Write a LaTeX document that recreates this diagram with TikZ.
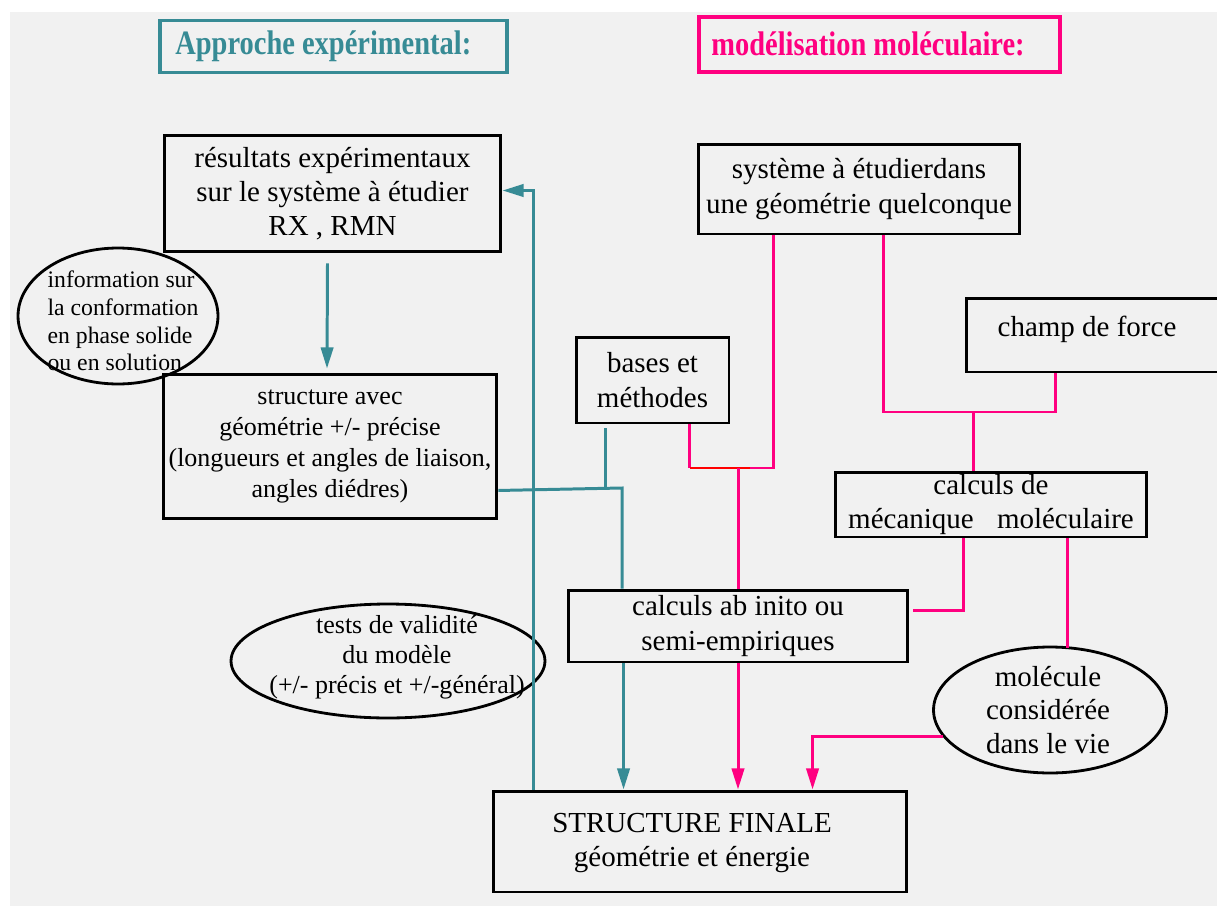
\documentclass[tikz,border=0pt]{standalone}
\usepackage{fontspec}
\usepackage{graphicx}
\setmainfont{Liberation Serif}
\usetikzlibrary{arrows.meta,calc,shapes.geometric}
\definecolor{bgc}{RGB}{241,241,241}
\definecolor{tealc}{RGB}{55,139,149}
\definecolor{pinkc}{RGB}{255,0,128}
\definecolor{redc}{RGB}{255,0,0}
\newcommand\fsz[2]{\fontsize{#1pt}{#2pt}\selectfont}
\begin{document}
\begin{tikzpicture}[x=0.02cm,y=-0.02cm,
  box/.style={draw=black,line width=1.7pt,rectangle,inner sep=0pt,align=center,font=\fsz{16.5}{19.5}},
  ell/.style={draw=black,line width=1.6pt,ellipse,inner sep=0pt},
  txt/.style={inner sep=0pt,align=center,font=\fsz{16.5}{19.5}},
  tl/.style={draw=tealc,line width=1.7pt},
  pl/.style={draw=pinkc,line width=1.7pt},
  arr/.style={-{Triangle[length=12pt,width=7pt]}}]
\useasboundingbox (0,0) rectangle (1217,906);
\clip (0,0) rectangle (1217,906);
\fill[bgc] (10,12) rectangle (1217,906);

% titles
\node[draw=tealc,line width=1.9pt,minimum width=6.94cm,minimum height=1.04cm,inner sep=0pt] (T1) at (333.5,46.5) {};
\node[anchor=west,text=tealc,font=\bfseries\fsz{16.2}{19},inner sep=0pt] (T1t) at (175,46) {\scalebox{1}[1.2]{Approche expérimental:}};
\node[draw=pinkc,line width=1.9pt,minimum width=7.22cm,minimum height=1.1cm,inner sep=0pt] (T2) at (879.5,44.5) {};
\node[anchor=west,text=pinkc,font=\bfseries\fsz{16.2}{19},inner sep=0pt] (T2t) at (711,44) {\scalebox{1}[1.2]{modélisation moléculaire:}};

% boxes
\node[box,minimum width=6.74cm,minimum height=2.34cm] (B1) at (332.5,193.5) {résultats expérimentaux\\sur le système à étudier\\RX , RMN};
\node[box,font=\fsz{14.8}{17.6},minimum width=6.68cm,minimum height=2.9cm] (B2) at (330,446.5) {structure avec\\géométrie +/- précise\\(longueurs et angles de liaison,\\angles diédres)};
\node[box,minimum width=3.06cm,minimum height=1.72cm] (B3) at (652.5,380) {bases et\\méthodes};
\node[box,minimum width=6.44cm,minimum height=1.8cm] (B4) at (859,189) {système à étudierdans\\une géométrie quelconque};
\node[box,minimum width=5.48cm,minimum height=1.48cm] (B5) at (1103,335) {};
\node[txt] (B5t) at (1087,329) {champ de force};
\node[box,minimum width=6.24cm,minimum height=1.3cm] (B6) at (991,504.5) {calculs de\\mécanique\hspace{0.8em}moléculaire};
\node[box,minimum width=6.8cm,minimum height=1.44cm] (B7) at (738,626) {calculs ab inito ou\\semi-empiriques};
\node[box,minimum width=8.28cm,minimum height=2.02cm] (B8) at (700,841.5) {};
\node[txt] (B8t) at (692,843) {STRUCTURE FINALE\\géométrie et énergie};

% ellipses
\node[ell,minimum width=4cm,minimum height=2.72cm] (E1) at (118,316) {};
\node[txt,align=left,font=\fsz{13.5}{15.8}] (E1t) at (123,321) {information sur\\la conformation\\en phase solide\\ou en solution};
\node[ell,minimum width=6.28cm,minimum height=2.28cm] (E2) at (388,661) {};
\node[txt,font=\fsz{14.8}{17}] (E2t) at (397,657) {tests de validité\\du modèle\\(+/- précis et +/-général)};
\node[ell,minimum width=4.66cm,minimum height=2.52cm] (E3) at (1050,710) {};
\node[txt,font=\fsz{16.5}{19}] (E3t) at (1048,710) {molécule\\considérée\\dans le vie};

% teal connectors
\draw[tl,arr] ($(B1.south)+(-5,10)$) -- ($(B2.north)+(-3,-4)$);
\coordinate (b8a) at ($(B8.north west)+(42,0)$);
\draw[tl,arr] (b8a) |- ($(B1.east)+(0,-3)$);
\coordinate (jt) at (622,488);
\coordinate (b2a) at ($(B2.south east)+(0,-30)$);
\draw[tl] (b2a) -- (jt) -- (jt |- B7.north);
\coordinate (b3o) at ($(B3.south west)+(31,4)$);
\draw[tl] (b3o) -- (b3o |- jt);
\coordinate (b7t) at ($(B7.south west)+(57,0)$);
\draw[tl,arr] (b7t) -- (b7t |- B8.north);

% pink connectors
\coordinate (jp1) at (738,468);
\coordinate (jr) at (750,468);
\coordinate (b3b) at ($(B3.south west)+(115,0)$);
\coordinate (b4a) at ($(B4.south west)+(77,0)$);
\draw[pl] (b3b) -- (b3b |- jp1);
\draw[draw=redc,line width=1.7pt] (b3b |- jp1) -- (jr);
\draw[pl] (jr) -- (b4a |- jp1) -- (b4a);
\draw[pl] (jp1) -- (B7.north);
\coordinate (b4b) at ($(B4.south west)+(187,0)$);
\coordinate (jp2) at (973,412);
\coordinate (b5a) at ($(B5.south west)+(91,0)$);
\draw[pl] (b4b) |- (b5a |- jp2) -- (b5a);
\draw[pl] (jp2) -- (jp2 |- B6.north);
\coordinate (b6a) at ($(B6.south west)+(130,0)$);
\coordinate (b7e) at ($(B7.north east)+(4,22)$);
\draw[pl] (b6a) |- (b7e);
\coordinate (b6b) at ($(B6.south west)+(234,0)$);
\draw[pl] (b6b) -- ($(b6b |- E3.north)+(0,2)$);
\draw[pl,arr] (B7.south) -- (B7.south |- B8.north);
\coordinate (b8b) at ($(B8.north west)+(321,0)$);
\draw[pl,arr] (E3.194) -| (b8b);
\end{tikzpicture}
\end{document}
